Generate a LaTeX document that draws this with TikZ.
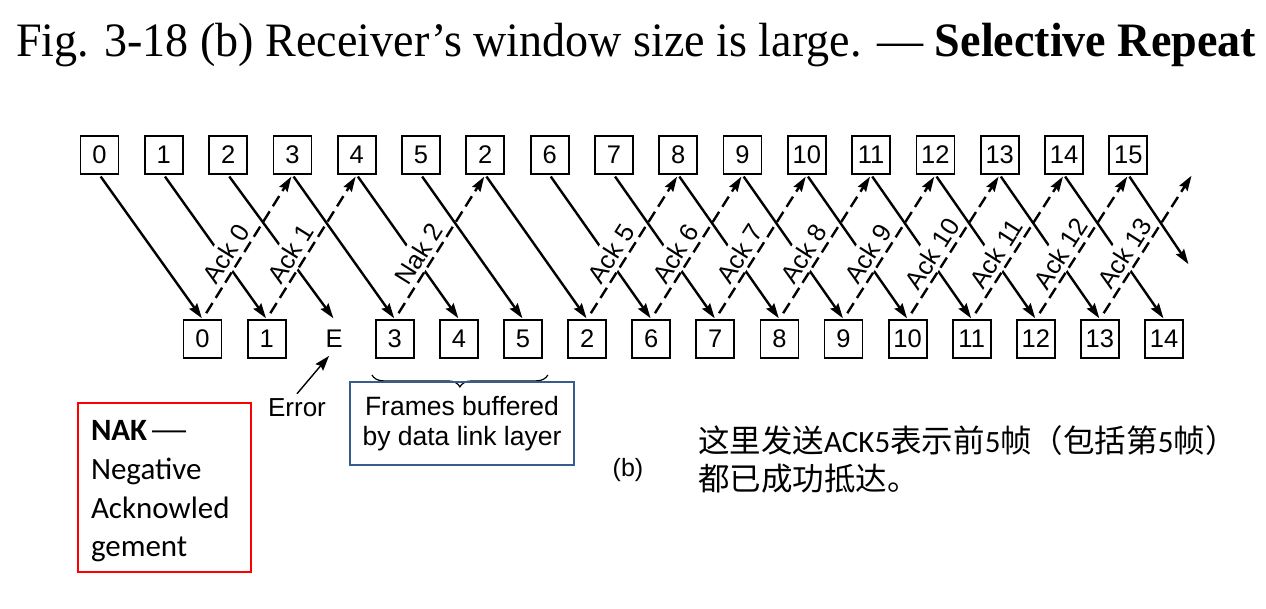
\documentclass[tikz,border=0pt]{standalone}
\usepackage{graphicx}
\usepackage{fontspec}
\setmainfont{Liberation Serif}
\newfontfamily\arialf{Liberation Sans}
\newfontfamily\calf{Carlito}
\newfontfamily\cjkf{Noto Sans CJK SC}
\usetikzlibrary{arrows.meta,decorations.pathreplacing,calc}
\definecolor{boxblue}{RGB}{56,93,138}
\newcommand{\latn}[1]{{\calf\fontsize{31}{38}\selectfont #1}}
\begin{document}
\begin{tikzpicture}[x=1pt,y=1pt,
  frame/.style={draw, line width=1.8pt, minimum width=38pt, minimum height=38pt, inner sep=0pt, font=\arialf\fontsize{25.5}{30}\selectfont},
  solidarr/.style={line width=2.4pt, -{Stealth[length=15pt,width=9.5pt,inset=2pt]}, shorten <=2pt, shorten >=1pt},
  dasharr/.style={solidarr, dash pattern=on 12pt off 6pt, shorten <=7pt, shorten >=2pt},
  acklab/.style={fill=white, inner xsep=2pt, inner ysep=5pt, font=\arialf\fontsize{25.5}{30}\selectfont, sloped, above, pos=0.4},
  sans/.style={font=\arialf\fontsize{#1}{#1}\selectfont},
]
\fill[white] (0,0) rectangle (1266,-608);
\useasboundingbox (0,0) rectangle (1266,-608);

% title
\node[anchor=base west, inner sep=0pt, font=\fontsize{48}{52}\selectfont] (title) at (16,-56.7)
  {\scalebox{0.96}[1]{Fig. 3-18 (b) Receiver’s window size is large. — \textbf{Selective Repeat}}};

% sender frames (top row)
\foreach \lab [count=\i from 0] in {0,1,2,3,4,5,2,6,7,8,9,10,11,12,13,14,15}
  \node[frame] (t\i) at ({99.5+64.3*\i},-155) {\lab};
\coordinate (t17) at ({99.5+64.3*17},-174);

% receiver frames (bottom row)
\foreach \i/\lab in {0/0,1/1,3/3,4/4,5/5,6/2,7/6,8/7,9/8,10/9,11/10,12/11,13/12,14/13,15/14}
  \node[frame] (b\i) at ({202.5+64.1*\i},-339) {\lab};
\node[frame, draw=none] (b2) at (334,-339) {E};
\coordinate (b16) at (1189,-265);

% data frames
\foreach \i in {0,...,15}
  \draw[solidarr] (t\i.south) -- (b\i.north);
\draw[solidarr] (t16.south) -- (b16);

% ack / nak labels
\foreach \s/\e/\txt in {b0/t3.south/Ack 0, b1/t4.south/Ack 1, b3/t6.south/Nak 2,
   b6/t9.south/Ack 5, b7/t10.south/Ack 6, b8/t11.south/Ack 7, b9/t12.south/Ack 8,
   b10/t13.south/Ack 9, b11/t14.south/Ack 10, b12/t15.south/Ack 11,
   b13/t16.south/Ack 12, b14/t17/Ack 13}
  \path (\s.north) -- node[acklab] {\txt} (\e);

% ack / nak frames
\foreach \s/\e in {b0/t3.south, b1/t4.south, b3/t6.south, b6/t9.south, b7/t10.south,
   b8/t11.south, b9/t12.south, b10/t13.south, b11/t14.south, b12/t15.south,
   b13/t16.south, b14/t17}
  \draw[dasharr] (\s.north) -- (\e);

% error
\node[sans=26, inner sep=0pt] (err) at (297,-408) {Error};
\draw[line width=1.4pt, -{Stealth[length=15pt,width=10pt,inset=2pt]}] ($(err.north)+(0,5)$) -- ($(b2.south)+(-5,3)$);

% brace and buffer box
\draw[line width=1.2pt, decorate, decoration={brace, mirror, amplitude=12pt}]
  ($(b3.south west)+(-3,-16)$) -- ($(b5.south east)+(5,-16)$);
\node[draw=boxblue, line width=2.6pt, minimum width=224pt, minimum height=83pt, align=center,
  font=\arialf\fontsize{26.5}{30}\selectfont] (buf) at (462,-423.5) {Frames buffered\\by data link layer};

\node[sans=25] (blab) at (628,-470) {(b)};

% NAK note
\node[draw=red, line width=1.5pt, minimum width=173pt, minimum height=169pt, inner xsep=13pt,
  text width=147pt, align=left, font=\calf\fontsize{31}{38.6}\selectfont] (nak) at (164.5,-487.5)
  {\rule{0pt}{28pt}\textbf{NAK}\hspace{1pt}\resizebox{42pt}{\height}{—}\\Negative\\Acknowled\\gement};

% chinese note
\node[anchor=base west, inner sep=0pt, font=\cjkf\fontsize{31.5}{38}\selectfont] (cn1) at (698,-452)
  {这里发送\latn{ACK5}表示前\latn{5}帧（包括第\latn{5}帧）};
\node[anchor=base west, inner sep=0pt, font=\cjkf\fontsize{31.5}{38}\selectfont] (cn2) at ($(cn1.base west)+(0,-38)$)
  {都已成功抵达。};
\end{tikzpicture}
\end{document}
